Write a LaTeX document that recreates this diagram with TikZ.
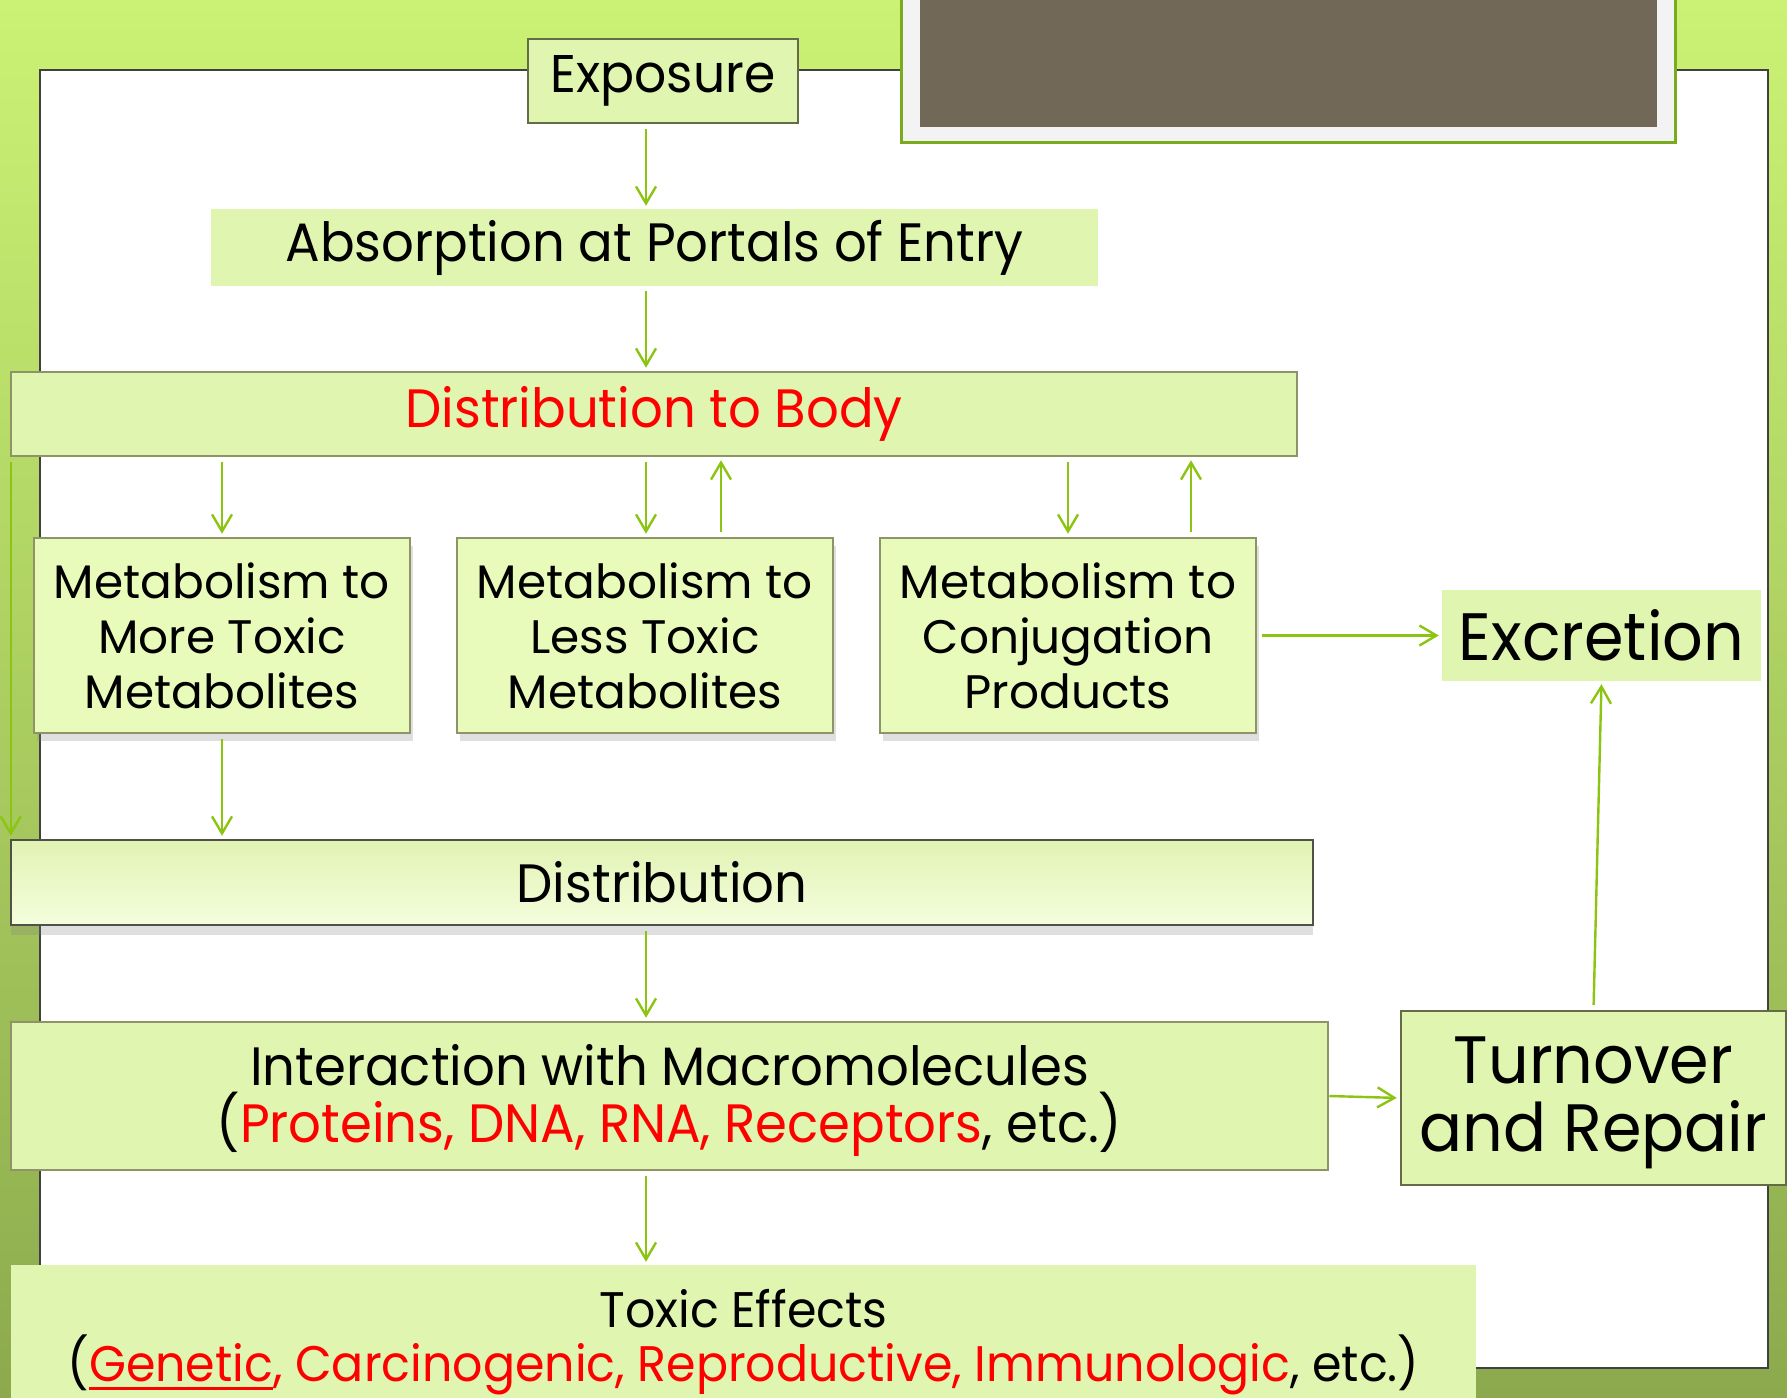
\documentclass[tikz,border=0pt]{standalone}
\usepackage{fontspec}
\setmainfont{Poppins}[FakeStretch=0.95]
\newfontfamily\widefont{Poppins}
\usetikzlibrary{arrows.meta,shadows}

\definecolor{boxgreen}{HTML}{DFF5B0}
\definecolor{metagreen}{HTML}{E9FBBA}
\definecolor{arrowgreen}{HTML}{8CC412}
\definecolor{olive}{HTML}{8E9468}
\definecolor{darkolive}{HTML}{656B46}
\definecolor{toxred}{HTML}{FF0000}
\definecolor{bgtop}{HTML}{CBF274}
\definecolor{bgbottom}{HTML}{8CAA4D}
\definecolor{photo}{HTML}{716857}
\definecolor{framegray}{HTML}{F3F3F3}
\definecolor{framegreen}{HTML}{7AAA1E}
\definecolor{panelgray}{HTML}{404040}

\newcommand{\hl}[1]{\textcolor{toxred}{#1}}
\newsavebox{\ulinebox}
\newcommand{\redline}[1]{\sbox{\ulinebox}{#1}\rlap{\rule[-8pt]{\wd\ulinebox}{2.5pt}}\usebox{\ulinebox}}

\begin{document}
\begin{tikzpicture}[x=1pt,y=-1pt,
  arr/.style={arrowgreen,line width=2.4pt,-{Straight Barb[length=17pt,width=20pt]},shorten <=5pt,shorten >=3pt},
  plain box/.style={fill=boxgreen,inner sep=0pt,align=center},
  edge box/.style={plain box,draw=olive,line width=2.5pt},
  meta box/.style={edge box,fill=metagreen,minimum width=376pt,minimum height=195pt,
    drop shadow={shadow xshift=3pt,shadow yshift=-8pt,opacity=0.25},font=\widefont\fontsize{47}{55}\selectfont},
  big/.style={font=\fontsize{54}{57}\selectfont},
  huge/.style={font=\fontsize{67}{68}\selectfont}]

  \useasboundingbox (0,0) rectangle (1787,1397);

  % slide background
  \shade[top color=bgtop,bottom color=bgbottom] (0,0) rectangle (1787,1397);
  \draw[panelgray,line width=2pt,fill=white] (40,70) rectangle (1768,1368);
  \draw[framegreen,line width=3pt,fill=framegray] (901,-10) rectangle (1675,142);
  \fill[photo] (920,-10) rectangle (1657,127);

  \node[edge box,draw=darkolive,minimum width=270pt,minimum height=84pt,
    font=\fontsize{53}{60}\selectfont] (expo) at (663,81) {Exposure};
  \node[plain box,big,minimum width=887pt,minimum height=77pt] (absorb) at (654.5,247.5)
    {Absorption at Portals of Entry};
  \node[edge box,big,text=toxred,minimum width=1286pt,minimum height=84pt] (dbody) at (654,414)
    {Distribution to Body};

  \node[meta box] (m1) at (222,635.5) {Metabolism to\\More Toxic\\Metabolites};
  \node[meta box] (m2) at (645,635.5) {Metabolism to\\Less Toxic\\Metabolites};
  \node[meta box] (m3) at (1068,635.5) {Metabolism to\\Conjugation\\Products};
  \node[plain box,huge,minimum width=319pt,minimum height=91pt] (excr) at (1601.5,635.5) {Excretion};

  \node[edge box,big,draw=panelgray!80!olive,minimum width=1302pt,minimum height=85pt,
    top color=metagreen!92!olive,middle color=metagreen,bottom color=metagreen!50!white,
    drop shadow={shadow xshift=0pt,shadow yshift=-10pt,opacity=0.25}] (dist) at (662,882.5)
    {Distribution};

  \node[edge box,big,minimum width=1317pt,minimum height=148pt] (inter) at (669.5,1096)
    {\rule{0pt}{50pt}Interaction with Macromolecules\\(\hl{Proteins, DNA, RNA, Receptors}, etc.)};
  \node[edge box,huge,draw=darkolive,minimum width=385pt,minimum height=174pt] (turn) at (1593.5,1098)
    {\rule{0pt}{57pt}Turnover\\and Repair};
  \node[plain box,font=\fontsize{50}{54}\selectfont,minimum width=1465pt,minimum height=155pt] (toxic)
    at (743.5,1342.5)
    {Toxic Effects\\(\hl{\redline{Genetic}, Carcinogenic, Reproductive, Immunologic}, etc.)};

  \coordinate (spine) at (646,0);
  \path[arr]
   (expo.south -| spine) edge (absorb.north -| spine)
   (absorb.south -| spine) edge (dbody.north -| spine)
   (dbody.south -| m1.north) edge (m1.north)
   (dbody.south -| spine) edge (m2.north -| spine)
   ([xshift=76pt]m2.north) edge ([xshift=76pt]m2.north |- dbody.south)
   (dbody.south -| m3.north) edge (m3.north)
   ([xshift=123pt]m3.north) edge ([xshift=123pt]m3.north |- dbody.south)
   (m3.east) edge (excr.west)
   ([xshift=1pt]dbody.south west) edge ([xshift=1pt]dbody.south west |- dist.north)
   (m1.south) edge (m1.south |- dist.north)
   (dist.south -| spine) edge (inter.north -| spine)
   (inter.south -| spine) edge (toxic.north -| spine)
   (inter.east) edge[shorten <=0pt] (turn.west)
   (turn.north) edge (excr.south);
\end{tikzpicture}
\end{document}
